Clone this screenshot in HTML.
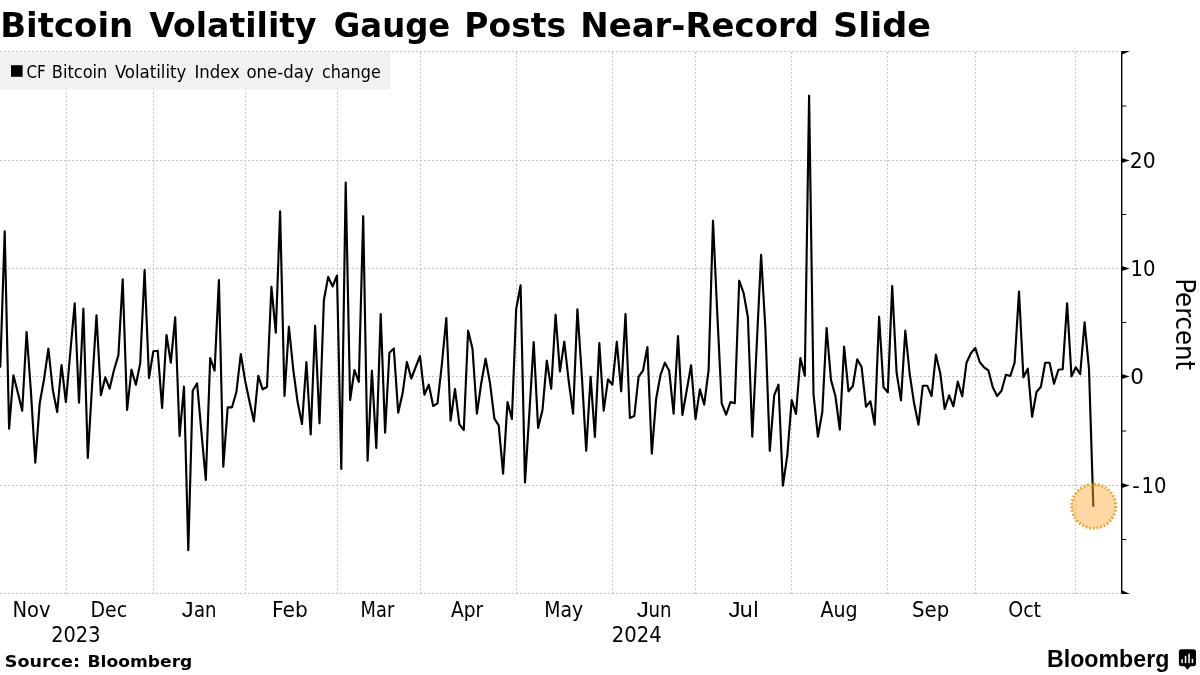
<!DOCTYPE html>
<html lang="en"><head><meta charset="utf-8"><title>Bitcoin Volatility Gauge Posts Near-Record Slide</title>
<style>
html,body{margin:0;padding:0;background:#fff;}
body{width:1200px;height:675px;overflow:hidden;}
svg{display:block;will-change:transform;}
text{font-family:"DejaVu Sans","Liberation Sans",sans-serif;fill:#000;}
.cond{font-family:"DejaVu Sans Condensed","DejaVu Sans","Liberation Sans",sans-serif;}
.b{font-weight:bold;}
.logo{font-family:"Liberation Sans",sans-serif;font-weight:bold;}
.lib{font-family:"Liberation Sans",sans-serif;}
.g{stroke:#c4c4c4;stroke-width:1;stroke-dasharray:2 2;fill:none;shape-rendering:crispEdges;}
</style></head><body>
<svg width="1200" height="675" viewBox="0 0 1200 675">
<rect width="1200" height="675" fill="#fff"/>
<g id="title">
<text class="b" x="0.14" y="36.6" font-size="34.6" textLength="133.17" lengthAdjust="spacingAndGlyphs">Bitcoin</text>
<text class="b" x="149.30" y="36.6" font-size="34.6" textLength="167.26" lengthAdjust="spacingAndGlyphs">Volatility</text>
<text class="b" x="333.85" y="36.6" font-size="34.6" textLength="116.41" lengthAdjust="spacingAndGlyphs">Gauge</text>
<text class="b" x="464.33" y="36.6" font-size="34.6" textLength="101.86" lengthAdjust="spacingAndGlyphs">Posts</text>
<text class="b" x="580.24" y="36.6" font-size="34.6" textLength="238.90" lengthAdjust="spacingAndGlyphs">Near-Record</text>
<text class="b" x="832.95" y="36.6" font-size="34.6" textLength="98.14" lengthAdjust="spacingAndGlyphs">Slide</text>
</g>
<g id="grid">
<line class="g" x1="66.5" y1="51.5" x2="66.5" y2="593.5"/>
<line class="g" x1="153.5" y1="51.5" x2="153.5" y2="593.5"/>
<line class="g" x1="245.5" y1="51.5" x2="245.5" y2="593.5"/>
<line class="g" x1="337.5" y1="51.5" x2="337.5" y2="593.5"/>
<line class="g" x1="420.5" y1="51.5" x2="420.5" y2="593.5"/>
<line class="g" x1="516.5" y1="51.5" x2="516.5" y2="593.5"/>
<line class="g" x1="612.5" y1="51.5" x2="612.5" y2="593.5"/>
<line class="g" x1="695.5" y1="51.5" x2="695.5" y2="593.5"/>
<line class="g" x1="791.5" y1="51.5" x2="791.5" y2="593.5"/>
<line class="g" x1="887.5" y1="51.5" x2="887.5" y2="593.5"/>
<line class="g" x1="975.5" y1="51.5" x2="975.5" y2="593.5"/>
<line class="g" x1="1075.5" y1="51.5" x2="1075.5" y2="593.5"/>
<line class="g" x1="0" y1="51.5" x2="1121.7" y2="51.5"/>
<line class="g" x1="0" y1="160.5" x2="1121.7" y2="160.5"/>
<line class="g" x1="0" y1="268.5" x2="1121.7" y2="268.5"/>
<line class="g" x1="0" y1="376.5" x2="1121.7" y2="376.5"/>
<line class="g" x1="0" y1="485.5" x2="1121.7" y2="485.5"/>
<line class="g" x1="0" y1="593.5" x2="1121.7" y2="593.5"/>
</g>
<g id="legend">
<rect x="0" y="52" width="390" height="37.5" rx="2" fill="#efefef" fill-opacity="0.88"/>
<rect x="11" y="65.2" width="11.6" height="11.6" fill="#000"/>
<text class="cond" x="26.46" y="77.7" font-size="17.3" textLength="19.35" lengthAdjust="spacingAndGlyphs">CF</text>
<text class="cond" x="51.77" y="77.7" font-size="17.3" textLength="55.59" lengthAdjust="spacingAndGlyphs">Bitcoin</text>
<text class="cond" x="114.91" y="77.7" font-size="17.3" textLength="71.50" lengthAdjust="spacingAndGlyphs">Volatility</text>
<text class="cond" x="194.44" y="77.7" font-size="17.3" textLength="45.36" lengthAdjust="spacingAndGlyphs">Index</text>
<text class="cond" x="246.47" y="77.7" font-size="17.3" textLength="67.24" lengthAdjust="spacingAndGlyphs">one-day</text>
<text class="cond" x="321.90" y="77.7" font-size="17.3" textLength="58.88" lengthAdjust="spacingAndGlyphs">change</text>
</g>
<polyline id="series" points="0.3,366.7 4.7,231.3 9.1,428.7 13.4,375.3 17.8,392.5 22.2,410.7 26.6,332.0 30.9,391.3 35.3,462.7 39.7,403.3 44.0,379.5 48.4,348.7 52.8,390.0 57.2,412.0 61.5,365.0 65.9,402.0 70.3,352.5 74.7,303.3 79.0,402.7 83.4,308.7 87.8,458.0 92.1,385.0 96.5,315.3 100.9,395.3 105.3,377.3 109.6,388.7 114.0,370.0 118.4,355.3 122.7,279.3 127.1,410.0 131.5,369.7 135.9,384.7 140.2,363.3 144.6,270.0 149.0,378.0 153.3,351.3 157.7,350.7 162.1,408.0 166.5,335.0 170.8,362.7 175.2,317.3 179.6,436.0 184.0,386.7 188.3,550.2 192.7,390.7 197.1,383.3 201.4,432.0 205.8,480.0 210.2,358.0 214.6,370.7 218.9,280.0 223.3,466.7 227.7,407.3 232.0,407.3 236.4,392.0 240.8,354.0 245.2,381.0 249.5,401.5 253.9,421.3 258.3,375.8 262.6,389.3 267.0,387.0 271.4,286.7 275.8,332.7 280.1,211.3 284.5,396.0 288.9,326.7 293.3,370.0 297.6,402.0 302.0,424.0 306.4,362.0 310.7,434.5 315.1,325.7 319.5,423.3 323.9,300.0 328.2,276.9 332.6,286.5 337.0,275.5 341.3,469.0 345.7,182.5 350.1,400.0 354.5,370.0 358.8,382.0 363.2,216.2 367.6,460.7 371.9,370.7 376.3,448.0 380.7,314.0 385.1,432.7 389.4,352.7 393.8,348.4 398.2,412.7 402.6,393.3 406.9,362.0 411.3,378.5 415.7,367.0 420.0,356.0 424.4,394.7 428.8,384.7 433.2,406.0 437.5,403.3 441.9,364.0 446.3,318.0 450.6,420.7 455.0,389.0 459.4,424.3 463.8,430.0 468.1,330.7 472.5,348.7 476.9,413.7 481.2,383.5 485.6,358.7 490.0,383.0 494.4,418.7 498.7,425.3 503.1,473.6 507.5,402.0 511.9,419.0 516.2,308.7 520.6,285.3 525.0,482.4 529.3,414.0 533.7,342.0 538.1,428.0 542.5,410.0 546.8,360.7 551.2,388.7 555.6,314.7 559.9,371.5 564.3,341.7 568.7,381.0 573.1,413.7 577.4,309.3 581.8,375.0 586.2,450.8 590.6,376.7 594.9,437.0 599.3,343.0 603.7,410.7 608.0,379.3 612.4,384.7 616.8,341.7 621.2,391.3 625.5,314.0 629.9,418.0 634.3,416.0 638.6,376.7 643.0,370.7 647.4,347.0 651.8,453.7 656.1,399.3 660.5,375.0 664.9,362.7 669.2,370.7 673.6,413.7 678.0,336.0 682.4,415.0 686.7,390.5 691.1,365.3 695.5,419.0 699.9,389.3 704.2,404.7 708.6,370.0 713.0,220.7 717.3,314.0 721.7,403.3 726.1,414.7 730.5,402.0 734.8,403.3 739.2,280.7 743.6,293.0 747.9,317.3 752.3,436.7 756.7,345.7 761.1,254.8 765.4,329.0 769.8,450.8 774.2,395.3 778.5,384.7 782.9,485.6 787.3,455.3 791.7,400.0 796.0,414.0 800.4,358.0 804.8,375.7 809.1,95.7 813.5,394.0 817.9,436.7 822.3,412.0 826.6,328.0 831.0,380.0 835.4,396.0 839.8,429.7 844.1,346.7 848.5,391.3 852.9,386.0 857.2,359.3 861.6,367.0 866.0,406.7 870.4,401.3 874.7,424.7 879.1,316.7 883.5,387.3 887.8,392.4 892.2,286.0 896.6,372.7 901.0,400.4 905.3,330.7 909.7,374.0 914.1,403.3 918.5,424.7 922.8,385.7 927.2,385.7 931.6,396.0 935.9,354.7 940.3,373.5 944.7,409.0 949.1,395.3 953.4,406.3 957.8,381.7 962.2,396.3 966.5,362.7 970.9,353.3 975.3,348.0 979.7,362.0 984.0,367.3 988.4,370.4 992.8,387.3 997.1,396.0 1001.5,390.7 1005.9,374.7 1010.3,376.0 1014.6,362.7 1019.0,291.5 1023.4,377.3 1027.8,368.7 1032.1,416.7 1036.5,392.0 1040.9,386.7 1045.2,362.7 1049.6,362.7 1054.0,383.7 1058.4,369.7 1062.7,369.3 1067.1,303.3 1071.5,376.4 1075.8,367.3 1080.2,374.0 1084.6,322.4 1089.0,369.0 1093.3,506.0" fill="none" stroke="#000" stroke-width="2.15" stroke-linejoin="round" stroke-linecap="round"/>
<circle cx="1093.7" cy="506.3" r="22" fill="#FCAB3A" fill-opacity="0.47" stroke="#E8A838" stroke-width="3" stroke-dasharray="1.85 1.85"/>
<g id="yaxis">
<line x1="1121.7" y1="51.5" x2="1121.7" y2="593.5" stroke="#000" stroke-width="1.4"/>
<path d="M1121.7 157.9 L1129.7 160.5 L1121.7 163.1Z" fill="#000"/>
<path d="M1121.7 265.9 L1129.7 268.5 L1121.7 271.1Z" fill="#000"/>
<path d="M1121.7 373.9 L1129.7 376.5 L1121.7 379.1Z" fill="#000"/>
<path d="M1121.7 482.9 L1129.7 485.5 L1121.7 488.1Z" fill="#000"/>
<path d="M1121.7 54.7 L1130.0 51.0 L1121.7 51.0Z" fill="#000"/>
<path d="M1121.7 590.3 L1130.0 594.0 L1121.7 594.0Z" fill="#000"/>
<line x1="1121.7" y1="106.0" x2="1126.2" y2="106.0" stroke="#000" stroke-width="1"/>
<line x1="1121.7" y1="214.5" x2="1126.2" y2="214.5" stroke="#000" stroke-width="1"/>
<line x1="1121.7" y1="322.5" x2="1126.2" y2="322.5" stroke="#000" stroke-width="1"/>
<line x1="1121.7" y1="431.0" x2="1126.2" y2="431.0" stroke="#000" stroke-width="1"/>
<line x1="1121.7" y1="539.5" x2="1126.2" y2="539.5" stroke="#000" stroke-width="1"/>
<text class="cond" x="1129.83" y="168.2" font-size="21" textLength="25.86" lengthAdjust="spacingAndGlyphs">20</text>
<text class="cond" x="1130.62" y="276.2" font-size="21" textLength="25.03" lengthAdjust="spacingAndGlyphs">10</text>
<text class="cond" x="1130.18" y="384.2" font-size="21" textLength="13.68" lengthAdjust="spacingAndGlyphs">0</text>
<text class="cond" y="493.2" font-size="21"><tspan x="1132.3" textLength="7.6" lengthAdjust="spacingAndGlyphs">-</tspan><tspan x="1141.63" textLength="24.91" lengthAdjust="spacingAndGlyphs">10</tspan></text>
<text class="cond" transform="translate(1175.7,278.29) rotate(90)" font-size="26.2" textLength="91.89" lengthAdjust="spacingAndGlyphs">Percent</text>
</g>
<g id="xaxis">
<text class="cond" x="12.46" y="616.7" font-size="20.6" textLength="38.02" lengthAdjust="spacingAndGlyphs">Nov</text>
<text class="cond" x="90.51" y="616.7" font-size="20.6" textLength="36.64" lengthAdjust="spacingAndGlyphs">Dec</text>
<text class="cond" y="616.7" font-size="20.6"><tspan class="lib" x="181.85" font-size="21.6" textLength="11.81" lengthAdjust="spacingAndGlyphs">J</tspan><tspan x="194.00" textLength="22.52" lengthAdjust="spacingAndGlyphs">an</tspan></text>
<text class="cond" x="272.09" y="616.7" font-size="20.6" textLength="35.65" lengthAdjust="spacingAndGlyphs">Feb</text>
<text class="cond" x="360.62" y="616.7" font-size="20.6" textLength="33.58" lengthAdjust="spacingAndGlyphs">Mar</text>
<text class="cond" x="450.90" y="616.7" font-size="20.6" textLength="32.29" lengthAdjust="spacingAndGlyphs">Apr</text>
<text class="cond" x="544.22" y="616.7" font-size="20.6" textLength="38.95" lengthAdjust="spacingAndGlyphs">May</text>
<text class="cond" y="616.7" font-size="20.6"><tspan class="lib" x="636.83" font-size="21.6" textLength="12.17" lengthAdjust="spacingAndGlyphs">J</tspan><tspan x="648.49" textLength="23.04" lengthAdjust="spacingAndGlyphs">un</tspan></text>
<text class="cond" y="616.7" font-size="20.6"><tspan class="lib" x="728.64" font-size="21.6" textLength="12.05" lengthAdjust="spacingAndGlyphs">J</tspan><tspan x="739.53" textLength="19.36" lengthAdjust="spacingAndGlyphs">ul</tspan></text>
<text class="cond" x="820.59" y="616.7" font-size="20.6" textLength="37.12" lengthAdjust="spacingAndGlyphs">Aug</text>
<text class="cond" x="912.09" y="616.7" font-size="20.6" textLength="37.22" lengthAdjust="spacingAndGlyphs">Sep</text>
<text class="cond" x="1008.24" y="616.7" font-size="20.6" textLength="32.83" lengthAdjust="spacingAndGlyphs">Oct</text>
<text class="cond" x="51.30" y="641.6" font-size="20.6" textLength="49.14" lengthAdjust="spacingAndGlyphs">2023</text>
<text class="cond" x="611.88" y="641.6" font-size="20.6" textLength="49.84" lengthAdjust="spacingAndGlyphs">2024</text>
</g>
<g id="footer">
<text class="b" x="4.77" y="667.4" font-size="16.5" textLength="75.16" lengthAdjust="spacingAndGlyphs">Source:</text>
<text class="b" x="87.46" y="667.4" font-size="16.5" textLength="104.93" lengthAdjust="spacingAndGlyphs">Bloomberg</text>
<text class="logo" x="1046.99" y="667" font-size="23.3" textLength="122.33" lengthAdjust="spacingAndGlyphs">Bloomberg</text>
<path d="M1181.4 649.3 H1193.5 Q1196 649.3 1196 651.8 V663.7 Q1196 666.2 1193.5 666.2 H1190.6 L1187.4 669.8 L1184.4 666.2 H1181.4 Q1178.9 666.2 1178.9 663.7 V651.8 Q1178.9 649.3 1181.4 649.3Z" fill="#000"/>
<rect x="1181.3" y="659.2" width="1.5" height="3.9" fill="#fff"/>
<rect x="1184.8" y="655.8" width="1.5" height="7.3" fill="#fff"/>
<rect x="1188.3" y="653.7" width="1.5" height="9.4" fill="#fff"/>
<rect x="1191.7" y="658.9" width="1.5" height="4.2" fill="#fff"/>
</g>
</svg>
</body></html>
